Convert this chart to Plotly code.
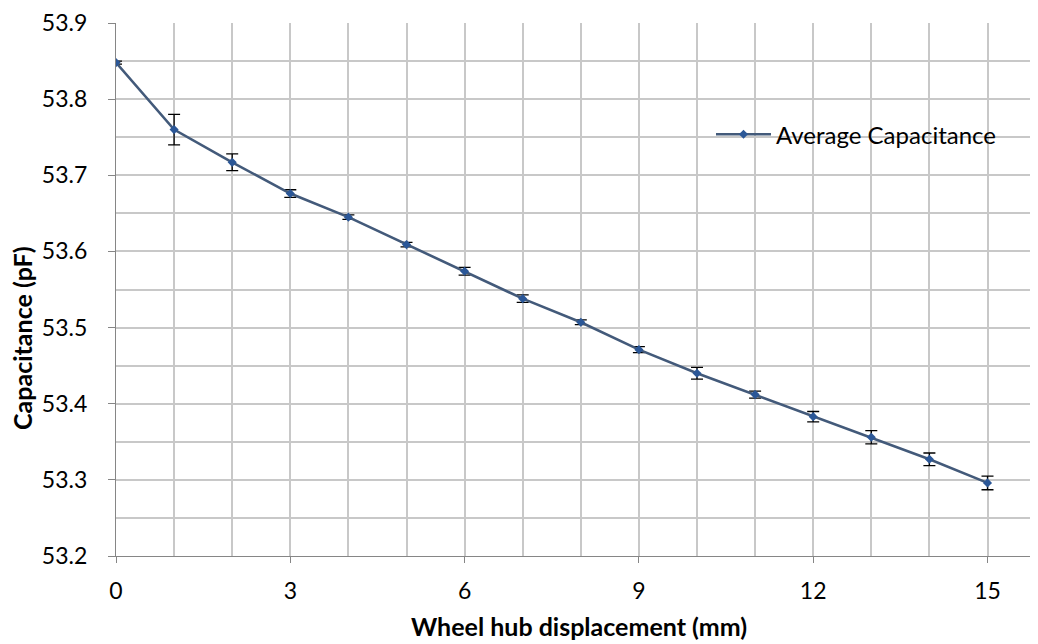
import plotly.graph_objects as go

displacement_mm = [0, 1, 2, 3, 4, 5, 6, 7, 8, 9, 10, 11, 12, 13, 14, 15]
avg_capacitance = [53.848, 53.760, 53.717, 53.676, 53.645, 53.609, 53.574, 53.538,
                   53.507, 53.471, 53.440, 53.412, 53.383, 53.356, 53.327, 53.296]
cap_error = [0.002, 0.020, 0.011, 0.005, 0.003, 0.003, 0.005, 0.005,
             0.003, 0.004, 0.0076, 0.0046, 0.0068, 0.0087, 0.0083, 0.009]

x_tick_vals = [0, 3, 6, 9, 12, 15]
y_tick_vals = [53.2, 53.3, 53.4, 53.5, 53.6, 53.7, 53.8, 53.9]

FONT = "Lato"
# the page body has an 8px margin, so the figure is drawn 8px in from the corner
W, H = 1030, 636
L, R, T, B = 108, 0, 13, 88
pw = W - L - R
ph = H - T - B

fig = go.Figure()
fig.add_trace(go.Scatter(
    x=displacement_mm, y=avg_capacitance,
    mode="lines+markers",
    name="Average Capacitance",
    line=dict(color="#435a7a", width=2.6),
    marker=dict(symbol="diamond", size=7, color="#2b5797"),
    error_y=dict(type="data", array=cap_error, visible=True,
                 color="black", thickness=1.3, width=6),
))

fig.update_layout(
    width=W, height=H, autosize=False,
    margin=dict(l=L, r=R, t=T, b=B, pad=0),
    paper_bgcolor="white", plot_bgcolor="white",
    font=dict(family=FONT, size=23, color="black"),
    showlegend=True,
    legend=dict(x=(703 - L) / pw, y=(H - B - 125) / ph, xref="paper", yref="paper",
                xanchor="left", yanchor="middle", bgcolor="rgba(0,0,0,0)",
                font=dict(family=FONT, size=24, color="black"), itemwidth=55),
    xaxis=dict(
        range=[0, (W - L) / 58.1], tickmode="array", tickvals=x_tick_vals,
        ticktext=[str(v) for v in x_tick_vals],
        ticks="outside", ticklen=6, tickcolor="#868686", tickwidth=1,
        showline=True, linecolor="#868686", linewidth=1.3,
        showgrid=True, gridcolor="#c8c8c8", gridwidth=1.5,
        minor=dict(dtick=1, tick0=0, showgrid=True, gridcolor="#c8c8c8", gridwidth=1.5),
        zeroline=False, ticklabelstandoff=8, ticklabeloverflow="allow",
        tickfont=dict(family=FONT, size=23),
    ),
    yaxis=dict(
        range=[53.2, 53.9], tickmode="array", tickvals=y_tick_vals,
        ticktext=[f"{v:.1f}" for v in y_tick_vals],
        ticks="outside", ticklen=7, tickcolor="#868686", tickwidth=1,
        showline=True, linecolor="#868686", linewidth=1.3,
        showgrid=True, gridcolor="#c8c8c8", gridwidth=1.5,
        minor=dict(dtick=0.05, tick0=53.2, showgrid=True, gridcolor="#c8c8c8", gridwidth=1.5),
        zeroline=False, ticklabelstandoff=16, ticklabeloverflow="allow",
        tickfont=dict(family=FONT, size=23),
    ),
    annotations=[
        dict(text="<b>Wheel hub displacement (mm)</b>", xref="paper", yref="paper",
             x=(571 - L) / pw, y=(H - B - 635) / ph, xanchor="center", yanchor="bottom",
             showarrow=False, font=dict(family=FONT, size=25, color="black")),
        dict(text="<b>Capacitance (pF)</b>", xref="paper", yref="paper",
             x=(14 - L) / pw, y=(H - B - 424) / ph, xanchor="center", yanchor="bottom",
             textangle=-90, showarrow=False, font=dict(family=FONT, size=25, color="black")),
    ],
)

fig.write_html("out.html")
